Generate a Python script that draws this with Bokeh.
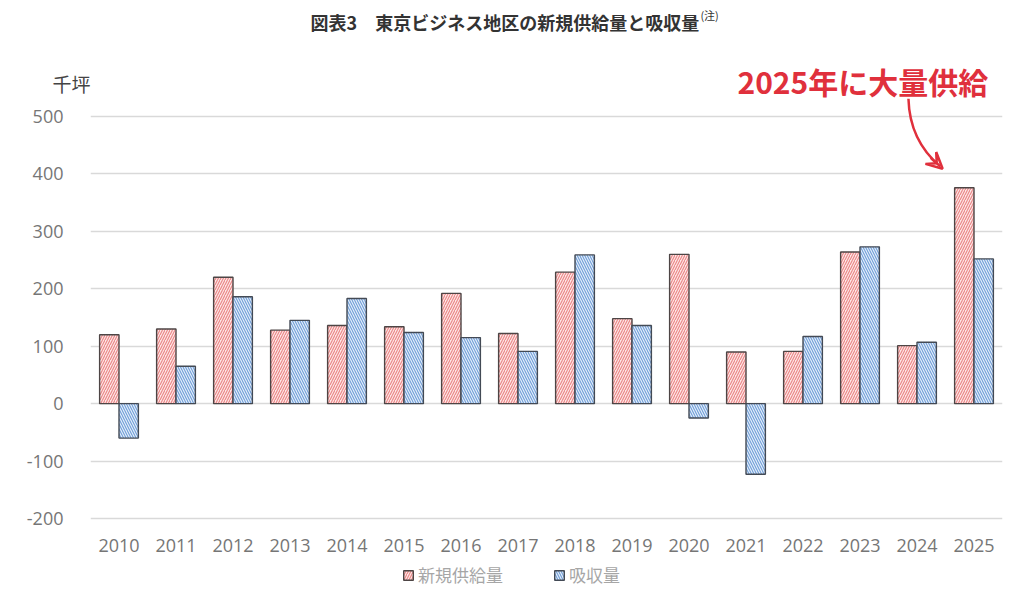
from bokeh.plotting import figure
from bokeh.models import (ColumnDataSource, FactorRange, Range1d, Label, Arrow, VeeHead,
                          Legend, LegendItem, FixedTicker, LinearAxis)
from bokeh.transform import dodge
from bokeh.embed import file_html
from bokeh.resources import INLINE

years = [str(y) for y in range(2010, 2026)]
supply = [120, 130, 220, 128, 136, 134, 192, 122, 229, 148, 260, 90, 91, 264, 101, 376]
absorption = [-60, 65, 186, 145, 183, 124, 115, 91, 259, 136, -25, -123, 117, 273, 107, 252]
y_ticks = [-200, -100, 0, 100, 200, 300, 400, 500]

title_text = "図表3　東京ビジネス地区の新規供給量と吸収量"
note_text = "(注)"
unit_text = "千坪"
callout_text = "2025年に大量供給"
series_names = ["新規供給量", "吸収量"]

JP = "Noto Sans CJK JP"
RED = "#e0303c"
Y_MIN = -200

src = ColumnDataSource(dict(year=years, supply=supply, absorption=absorption))
p = figure(x_range=FactorRange(*years, range_padding=0), y_range=Range1d(-355, 702),
           frame_width=912, frame_height=607, min_border_left=90, min_border_right=22,
           min_border_top=0, min_border_bottom=0,
           output_backend="svg", toolbar_location=None)
p.x_range.factor_padding = 0
p.outline_line_color = None

r1 = p.vbar(x=dodge("year", -0.17, range=p.x_range), top="supply", width=0.34, source=src,
            fill_color="#fde6e6", line_color="#4d4545", line_width=1.4,
            hatch_pattern="/", hatch_color="#ea8585", hatch_scale=5, hatch_weight=1.1)
r2 = p.vbar(x=dodge("year", 0.17, range=p.x_range), top="absorption", width=0.34, source=src,
            fill_color="#e4eefa", line_color="#434a55", line_width=1.4,
            hatch_pattern="\\", hatch_color="#709ed8", hatch_scale=5, hatch_weight=1.1)

p.yaxis.ticker = FixedTicker(ticks=y_ticks)
p.yaxis.major_label_overrides = {t: str(t) for t in y_ticks}
p.ygrid.ticker = FixedTicker(ticks=y_ticks)
p.xgrid.grid_line_color = None
p.ygrid.grid_line_color = "#d9d9d9"
p.ygrid.grid_line_width = 1.3

# unit label "千坪" as an inner axis carrying a single tick label
unit_axis = LinearAxis(ticker=FixedTicker(ticks=[557]), major_label_overrides={557: unit_text})
unit_axis.major_label_text_font = JP
unit_axis.major_label_text_font_size = "19px"
unit_axis.major_label_text_color = "#444444"
unit_axis.major_label_standoff = 0
num_axis = p.yaxis[0]
p.left = [unit_axis, num_axis]

xax = p.xaxis[0]
xax.fixed_location = Y_MIN
for ax in (xax, num_axis, unit_axis):
    ax.axis_line_color = None
    ax.major_tick_line_color = None
    ax.minor_tick_line_color = None
    ax.major_tick_out = 0
    ax.major_tick_in = 0
for ax in (xax, num_axis):
    ax.major_label_text_color = "#767676"
    ax.major_label_text_font = "Open Sans"
    ax.major_label_text_font_size = "18px"
num_axis.major_label_standoff = -14
xax.major_label_standoff = 21

legend = Legend(items=[LegendItem(label=series_names[0], renderers=[r1]),
                       LegendItem(label=series_names[1], renderers=[r2])],
                orientation="horizontal", location=(312, 20),
                label_text_font=JP, label_text_font_size="17px", label_text_color="#a6a6a6",
                glyph_width=12, glyph_height=12, label_standoff=4, spacing=50,
                border_line_color=None, background_fill_alpha=0, padding=0, margin=0)
p.add_layout(legend, "center")

p.add_layout(Label(x=3.86, y=665, text=title_text, text_font=JP, text_font_size="18px",
                   text_font_style="bold", text_color="#333333", text_baseline="middle"))
p.add_layout(Label(x=10.7, y=677, text=note_text, text_font=JP, text_font_size="11px",
                   text_color="#333333", text_baseline="middle"))
p.add_layout(Label(x=15.75, y=562, text=callout_text, text_font=JP, text_font_size="30px",
                   text_font_style="bold", text_color=RED, text_baseline="middle",
                   text_align="right"))

p.quadratic(x0=[14.35], y0=[531], cx=[14.37], cy=[458], x1=[14.91], y1=[413],
            line_color=RED, line_width=2.5)
p.add_layout(Arrow(end=VeeHead(size=16, line_color=RED, line_width=2.5, fill_alpha=0),
                   x_start=14.74, y_start=428, x_end=14.95, y_end=409,
                   line_color=RED, line_width=2.5))

open("out.html", "w").write(file_html(p, INLINE))
